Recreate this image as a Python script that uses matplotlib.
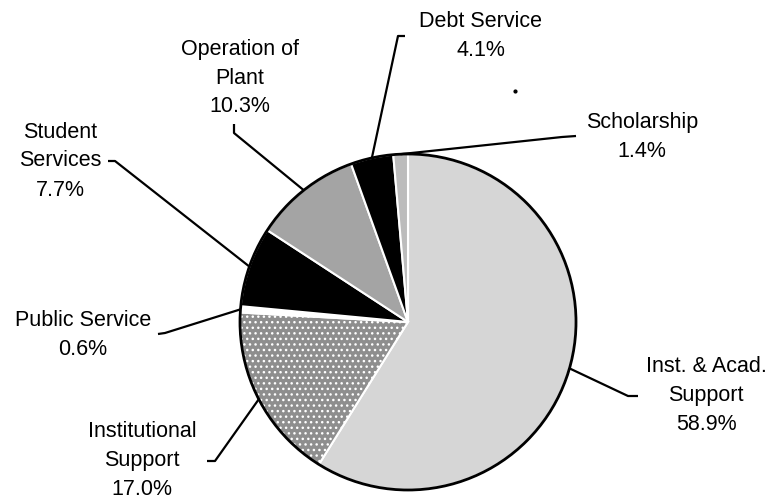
import matplotlib
matplotlib.use("Agg")
import matplotlib.pyplot as plt
import numpy as np

# slice data, clockwise from 12 o'clock
labels = ["Inst. & Acad.\nSupport", "Institutional\nSupport", "Public Service",
          "Student\nServices", "Operation of\nPlant", "Debt Service", "Scholarship"]
shares = [58.9, 17.0, 0.6, 7.7, 10.3, 4.1, 1.4]
colors = ["#d6d6d6", "#8e8e8e", "#ffffff", "#000000", "#a4a4a4", "#000000", "#bcbcbc"]

# label layout in pixels (y measured from top): text centre, then leader elbow points
text_pos = [(706, 396), (142, 461), (83, 335), (60, 161), (240, 78), (481, 36), (642, 137)]
elbows = [[(628, 397), (638, 397)],
          [(215, 462), (207, 462)],
          [(165, 334), (158, 335)],
          [(115, 162), (108, 162)],
          [(234, 134), (234, 125)],
          [(398, 37), (405, 37)],
          [(562, 138), (576, 137)]]

W, H = 770, 502
cx, cy, r = 408, 323, 168

plt.rcParams['font.family'] = ['Liberation Sans', 'DejaVu Sans']

fig = plt.figure(figsize=(W / 100, H / 100), dpi=100)
ax = fig.add_axes([0, 0, 1, 1])

wedges, _ = ax.pie(shares, colors=colors, startangle=90, counterclock=False,
                   center=(cx, H - cy), radius=r,
                   wedgeprops=dict(edgecolor='white', linewidth=1.5))
wedges[1].set_hatch('...')
ax.add_patch(plt.Circle((cx, H - cy), r, fill=False, edgecolor='black', linewidth=2))

# pie() resets the limits, so set the pixel frame afterwards
ax.set_xlim(0, W)
ax.set_ylim(0, H)
ax.set_aspect('equal')
ax.axis('off')

for i, w in enumerate(wedges):
    mid = np.deg2rad((w.theta1 + w.theta2) / 2)
    ax_pt = (cx + r * np.cos(mid), H - cy + r * np.sin(mid))
    pts = [ax_pt] + [(x, H - y) for x, y in elbows[i]]
    xs, ys = zip(*pts)
    ax.plot(xs, ys, color='black', linewidth=1.6, solid_capstyle='butt')
    tx, ty = text_pos[i]
    ax.text(tx, H - ty, f"{labels[i]}\n{shares[i]:.1f}%", ha='center', va='center',
            fontsize=15.5, linespacing=1.5, color='black')

# stray scan dot
ax.plot([515], [H - 92], marker='o', markersize=2, color='black')

fig.savefig("out.png", dpi=100)
